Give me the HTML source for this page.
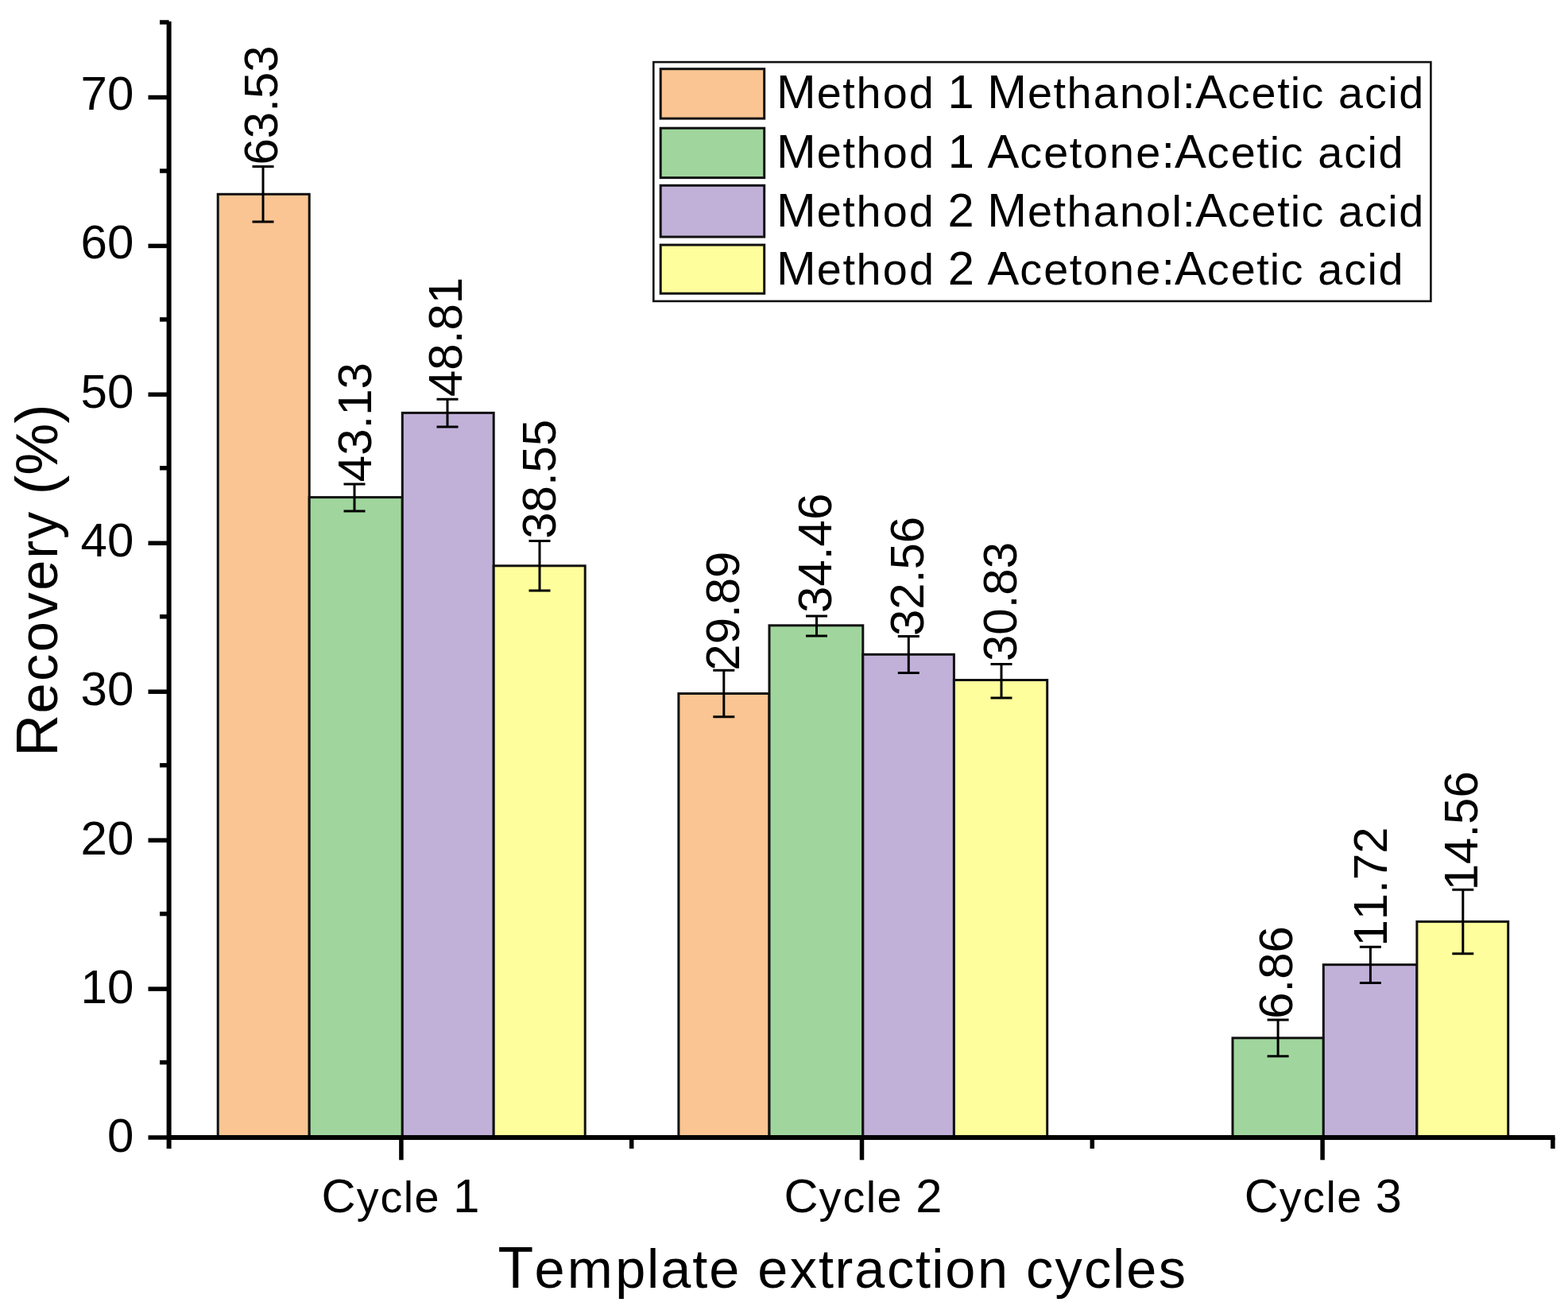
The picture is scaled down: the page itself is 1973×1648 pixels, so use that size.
<!DOCTYPE html><html><head><meta charset="utf-8"><title>Recovery (%) vs template extraction cycles</title><style>html,body{margin:0;padding:0;background:#fff;overflow:hidden;}svg{display:block;}text{font-family:'Liberation Sans', Arial, Helvetica, sans-serif;fill:#000;font-kerning:none;}</style></head><body>
<svg width="1973" height="1648" viewBox="0 0 1973 1648">
<rect x="0" y="0" width="1973" height="1648" fill="#fff"/>
<rect x="274.2" y="244.3" width="115.0" height="1186.7" fill="#FAC592" stroke="#111" stroke-width="3.0"/>
<rect x="389.2" y="625.6" width="117.1" height="805.4" fill="#A0D69D" stroke="#111" stroke-width="3.0"/>
<rect x="506.3" y="519.4" width="114.9" height="911.6" fill="#C1B1D9" stroke="#111" stroke-width="3.0"/>
<rect x="621.2" y="711.8" width="115.0" height="719.2" fill="#FFFE9C" stroke="#111" stroke-width="3.0"/>
<rect x="853.9" y="872.5" width="114.1" height="558.5" fill="#FAC592" stroke="#111" stroke-width="3.0"/>
<rect x="968.0" y="786.8" width="117.8" height="644.2" fill="#A0D69D" stroke="#111" stroke-width="3.0"/>
<rect x="1085.8" y="823.3" width="114.6" height="607.7" fill="#C1B1D9" stroke="#111" stroke-width="3.0"/>
<rect x="1200.4" y="855.5" width="117.3" height="575.5" fill="#FFFE9C" stroke="#111" stroke-width="3.0"/>
<rect x="1551.0" y="1305.8" width="114.3" height="125.2" fill="#A0D69D" stroke="#111" stroke-width="3.0"/>
<rect x="1665.3" y="1213.6" width="117.6" height="217.4" fill="#C1B1D9" stroke="#111" stroke-width="3.0"/>
<rect x="1782.9" y="1159.4" width="114.8" height="271.6" fill="#FFFE9C" stroke="#111" stroke-width="3.0"/>
<path d="M317.5 209.5H344.5M331.0 209.5V279.0M317.5 279.0H344.5" stroke="#000" stroke-width="3.0" fill="none"/>
<path d="M432.5 608.9H459.5M446.0 608.9V642.9M432.5 642.9H459.5" stroke="#000" stroke-width="3.0" fill="none"/>
<path d="M549.5 502.2H576.5M563.0 502.2V537.0M549.5 537.0H576.5" stroke="#000" stroke-width="3.0" fill="none"/>
<path d="M665.5 680.4H692.5M679.0 680.4V742.9M665.5 742.9H692.5" stroke="#000" stroke-width="3.0" fill="none"/>
<path d="M897.3 843.3H924.3M910.8 843.3V901.7M897.3 901.7H924.3" stroke="#000" stroke-width="3.0" fill="none"/>
<path d="M1014.0 775.0H1041.0M1027.5 775.0V800.1M1014.0 800.1H1041.0" stroke="#000" stroke-width="3.0" fill="none"/>
<path d="M1129.8 800.5H1156.8M1143.3 800.5V846.5M1129.8 846.5H1156.8" stroke="#000" stroke-width="3.0" fill="none"/>
<path d="M1246.5 835.5H1273.5M1260.0 835.5V878.1M1246.5 878.1H1273.5" stroke="#000" stroke-width="3.0" fill="none"/>
<path d="M1594.6 1283.1H1621.6M1608.1 1283.1V1328.8M1594.6 1328.8H1621.6" stroke="#000" stroke-width="3.0" fill="none"/>
<path d="M1710.9 1191.3H1737.9M1724.4 1191.3V1236.6M1710.9 1236.6H1737.9" stroke="#000" stroke-width="3.0" fill="none"/>
<path d="M1827.3 1119.3H1854.3M1840.8 1119.3V1199.7M1827.3 1199.7H1854.3" stroke="#000" stroke-width="3.0" fill="none"/>
<path d="M212.6 27V1445" stroke="#000" stroke-width="6.0" fill="none"/>
<path d="M209.6 1430.9H1956.6" stroke="#000" stroke-width="6.0" fill="none"/>
<path d="M186.5 1431.0H212.6" stroke="#000" stroke-width="5.5"/>
<path d="M201 1336.5H212.6" stroke="#000" stroke-width="5.5"/>
<path d="M186.5 1244.1H212.6" stroke="#000" stroke-width="5.5"/>
<path d="M201 1149.6H212.6" stroke="#000" stroke-width="5.5"/>
<path d="M186.5 1057.1H212.6" stroke="#000" stroke-width="5.5"/>
<path d="M201 962.7H212.6" stroke="#000" stroke-width="5.5"/>
<path d="M186.5 870.2H212.6" stroke="#000" stroke-width="5.5"/>
<path d="M201 775.7H212.6" stroke="#000" stroke-width="5.5"/>
<path d="M186.5 683.3H212.6" stroke="#000" stroke-width="5.5"/>
<path d="M201 588.8H212.6" stroke="#000" stroke-width="5.5"/>
<path d="M186.5 496.3H212.6" stroke="#000" stroke-width="5.5"/>
<path d="M201 401.9H212.6" stroke="#000" stroke-width="5.5"/>
<path d="M186.5 309.4H212.6" stroke="#000" stroke-width="5.5"/>
<path d="M201 215.0H212.6" stroke="#000" stroke-width="5.5"/>
<path d="M186.5 122.5H212.6" stroke="#000" stroke-width="5.5"/>
<path d="M201 28.0H212.6" stroke="#000" stroke-width="5.5"/>
<path d="M504.9 1431V1459.3" stroke="#000" stroke-width="5.5"/>
<path d="M1084.5 1431V1459.3" stroke="#000" stroke-width="5.5"/>
<path d="M1664.1 1431V1459.3" stroke="#000" stroke-width="5.5"/>
<path d="M794.7 1431V1445" stroke="#000" stroke-width="5.5"/>
<path d="M1374.3 1431V1445" stroke="#000" stroke-width="5.5"/>
<path d="M1953.9 1431V1445" stroke="#000" stroke-width="5.5"/>
<rect x="822.3" y="78.1" width="978.1" height="300.8" fill="#fff" stroke="#111" stroke-width="2.6"/>
<rect x="831.2" y="86.7" width="130.5" height="62.4" fill="#FAC592" stroke="#111" stroke-width="3"/>
<rect x="831.2" y="161.2" width="130.5" height="62.4" fill="#A0D69D" stroke="#111" stroke-width="3"/>
<rect x="831.2" y="233.3" width="130.5" height="64.7" fill="#C1B1D9" stroke="#111" stroke-width="3"/>
<rect x="831.2" y="308.1" width="130.5" height="61.1" fill="#FFFE9C" stroke="#111" stroke-width="3"/>
<text transform="translate(348.85 207.50) rotate(-90)" font-size="60">63.53</text>
<text transform="translate(467.20 606.20) rotate(-90)" font-size="60">43.13</text>
<text transform="translate(581.25 499.00) rotate(-90)" font-size="60">48.81</text>
<text transform="translate(698.90 677.80) rotate(-90)" font-size="60">38.55</text>
<text transform="translate(929.55 843.70) rotate(-90)" font-size="60">29.89</text>
<text transform="translate(1046.20 770.90) rotate(-90)" font-size="60">34.46</text>
<text transform="translate(1161.55 800.00) rotate(-90)" font-size="60">32.56</text>
<text transform="translate(1279.35 832.10) rotate(-90)" font-size="60">30.83</text>
<text transform="translate(1626.15 1281.80) rotate(-90)" font-size="60">6.86</text>
<text transform="translate(1744.60 1190.50) rotate(-90)" font-size="60">11.72</text>
<text transform="translate(1858.70 1120.30) rotate(-90)" font-size="60">14.56</text>
<text x="168.30" y="1449.20" font-size="60" text-anchor="end">0</text>
<text x="168.30" y="1262.47" font-size="60" text-anchor="end">10</text>
<text x="168.30" y="1074.74" font-size="60" text-anchor="end">20</text>
<text x="168.30" y="887.01" font-size="60" text-anchor="end">30</text>
<text x="168.30" y="700.28" font-size="60" text-anchor="end">40</text>
<text x="168.30" y="512.55" font-size="60" text-anchor="end">50</text>
<text x="168.30" y="324.82" font-size="60" text-anchor="end">60</text>
<text x="168.30" y="138.09" font-size="60" text-anchor="end">70</text>
<text transform="translate(504.01 1524.60) scale(0.9939 1) translate(-100.03 0)" font-size="60"><tspan x="0.00">C</tspan><tspan x="44.31 74.31 103.76 117.74" font-size="56.10">ycle</tspan><tspan x="150.03 166.70"> 1</tspan></text>
<text transform="translate(1086.00 1524.60) scale(0.9939 1) translate(-100.03 0)" font-size="60"><tspan x="0.00">C</tspan><tspan x="44.31 74.31 103.76 117.74" font-size="56.10">ycle</tspan><tspan x="150.03 166.70"> 2</tspan></text>
<text transform="translate(1664.80 1524.60) scale(0.9898 1) translate(-100.03 0)" font-size="60"><tspan x="0.00">C</tspan><tspan x="44.31 74.31 103.76 117.74" font-size="56.10">ycle</tspan><tspan x="150.03 166.70"> 3</tspan></text>
<text transform="translate(626.42 1619.90) scale(0.9894 1)" font-size="74"><tspan x="0.00">T</tspan><tspan x="46.54 88.36 149.34 189.69 206.93 247.42 268.65" font-size="69.19">emplate</tspan><tspan x="308.47"> </tspan><tspan x="330.36 371.38 407.85 428.54 453.72 494.74 531.21 551.63 568.88 610.03" font-size="69.19">extraction</tspan><tspan x="649.85"> </tspan><tspan x="671.61 708.61 745.61 781.94 799.19 840.21" font-size="69.19">cycles</tspan></text>
<text transform="translate(71.80 951.74) rotate(-90) scale(0.9895 1)" font-size="74"><tspan x="0.00">R</tspan><tspan x="54.78 95.80 132.93 173.95 211.09 251.71 276.75" font-size="69.19">ecovery</tspan><tspan x="312.55 333.11 357.75 423.55"> (%)</tspan></text>
<text transform="translate(977.03 136.00) scale(0.9936 1)" font-size="60"><tspan x="0.00">M</tspan><tspan x="51.06 83.89 101.10 134.47 167.84" font-size="56.10">ethod</tspan><tspan x="200.13 216.80 250.17 266.84"> 1 M</tspan><tspan x="317.90 350.73 367.94 401.31 434.68 468.05 500.77" font-size="56.10">ethanol</tspan><tspan x="513.66 530.33">:A</tspan><tspan x="571.33 601.44 634.26 650.82 664.70" font-size="56.10">cetic</tspan><tspan x="693.72"> </tspan><tspan x="711.48 744.73 774.19 788.17" font-size="56.10">acid</tspan></text>
<text transform="translate(977.03 210.50) scale(0.9946 1)" font-size="60"><tspan x="0.00">M</tspan><tspan x="51.06 83.89 101.10 134.47 167.84" font-size="56.10">ethod</tspan><tspan x="200.13 216.80 250.17 266.84"> 1 A</tspan><tspan x="307.83 337.94 370.77 387.98 421.35 454.72" font-size="56.10">cetone</tspan><tspan x="487.00 503.67">:A</tspan><tspan x="544.67 574.78 607.60 624.16 638.04" font-size="56.10">cetic</tspan><tspan x="667.06"> </tspan><tspan x="684.81 718.07 747.53 761.51" font-size="56.10">acid</tspan></text>
<text transform="translate(977.03 285.00) scale(0.9936 1)" font-size="60"><tspan x="0.00">M</tspan><tspan x="51.06 83.89 101.10 134.47 167.84" font-size="56.10">ethod</tspan><tspan x="200.13 216.80 250.17 266.84"> 2 M</tspan><tspan x="317.90 350.73 367.94 401.31 434.68 468.05 500.77" font-size="56.10">ethanol</tspan><tspan x="513.66 530.33">:A</tspan><tspan x="571.33 601.44 634.26 650.82 664.70" font-size="56.10">cetic</tspan><tspan x="693.72"> </tspan><tspan x="711.48 744.73 774.19 788.17" font-size="56.10">acid</tspan></text>
<text transform="translate(977.03 357.50) scale(0.9946 1)" font-size="60"><tspan x="0.00">M</tspan><tspan x="51.06 83.89 101.10 134.47 167.84" font-size="56.10">ethod</tspan><tspan x="200.13 216.80 250.17 266.84"> 2 A</tspan><tspan x="307.83 337.94 370.77 387.98 421.35 454.72" font-size="56.10">cetone</tspan><tspan x="487.00 503.67">:A</tspan><tspan x="544.67 574.78 607.60 624.16 638.04" font-size="56.10">cetic</tspan><tspan x="667.06"> </tspan><tspan x="684.81 718.07 747.53 761.51" font-size="56.10">acid</tspan></text>
</svg></body></html>
